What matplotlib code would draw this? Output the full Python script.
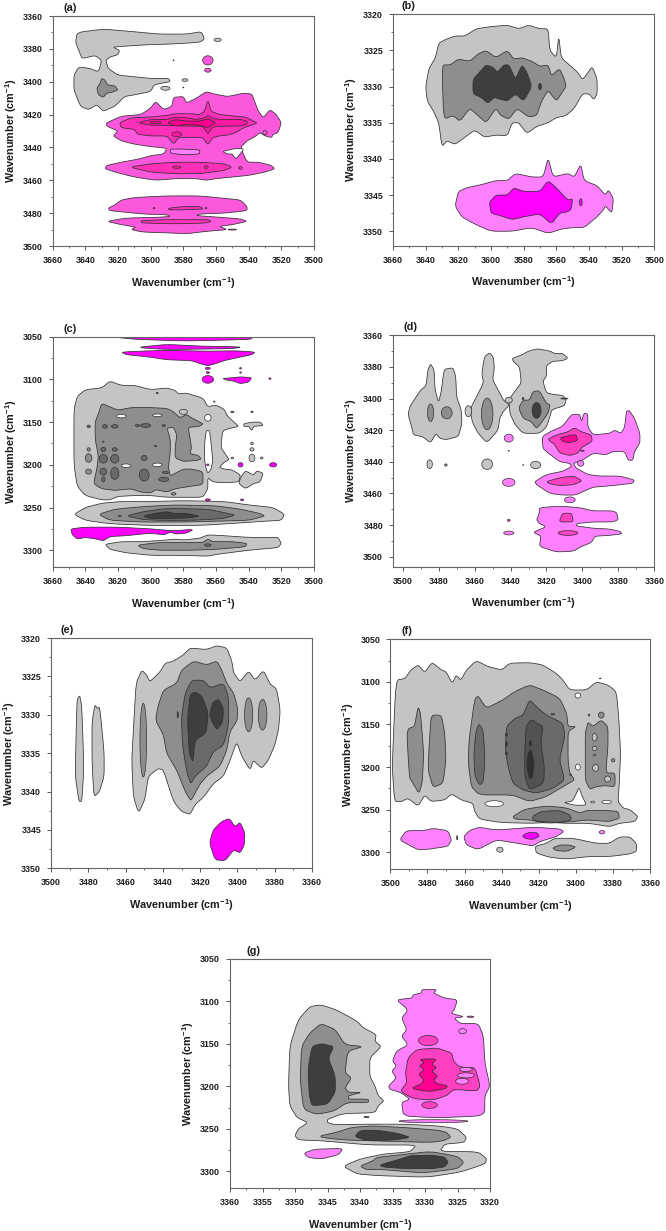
"""
Seven 2D correlation contour maps (a)-(g), redrawn with matplotlib.
Contour outlines were read off the picture, in wavenumber units.
"""

import matplotlib
matplotlib.use("Agg")
import matplotlib.pyplot as plt
from matplotlib.patches import Ellipse
import numpy as np

plt.rcParams["font.family"] = ["Liberation Sans", "DejaVu Sans"]
plt.rcParams["font.weight"] = "bold"
plt.rcParams["mathtext.fontset"] = "custom"
plt.rcParams["mathtext.bf"] = "Liberation Sans:bold"
plt.rcParams["mathtext.rm"] = "Liberation Sans:bold"

# contour fill levels
G1 = "#c4c4c4"
G2 = "#8e8e8e"
G3 = "#6a6a6a"
G4 = "#3e3e3e"
P1 = "#ff80ff"
P2 = "#ff40c0"
P3 = "#ff0090"
M = "#ff00ff"
A1 = "#fb58dc"
A2 = "#ff30b8"
A3 = "#ff18a4"
W = "white"

# panel (a)
a_regions = [
    (G1, [(3645,3370),(3629,3368),(3611,3369.5),(3595,3371),(3578,3371),(3569,3369.5),(3567,3374),(3570,3376),(3586,3377),(3602,3377.5),(3618,3378.5),(3623,3379),(3619,3381),(3620,3383.5),(3625,3385),(3627.5,3387),(3626,3392),(3620,3396),(3610,3397),(3600,3398),(3589,3398),(3588,3400),(3594,3401),(3598,3402),(3600,3406),(3610,3408),(3616,3409),(3622,3415),(3629,3418),(3633,3414),(3638,3417),(3643,3415),(3647,3405),(3647,3396),(3644,3391),(3637,3392),(3632,3394),(3630,3387),(3634,3384),(3642,3386),(3644,3381),(3646,3376)]),
    (G2, [(3630,3398),(3628,3399),(3626.5,3402),(3622,3402.5),(3620,3405),(3624,3406.5),(3627,3407),(3629,3409.5),(3632,3408),(3633,3404),(3631,3401)]),
    (A1, [(3627,3425),(3618,3421),(3606,3420),(3600,3416),(3597,3412),(3592,3417),(3587,3415),(3586,3409.5),(3580,3409),(3578,3413),(3572,3410),(3566,3406),(3561,3407.5),(3553,3409),(3548,3408),(3543,3407),(3538,3407.5),(3536,3413),(3534,3418),(3531,3422),(3527,3417),(3523,3420),(3520,3425),(3522,3431),(3525,3432),(3526,3434),(3530,3433),(3533,3431),(3537,3434),(3541,3436),(3545,3440),(3541,3449),(3534,3449),(3526,3451),(3524,3453),(3530,3455),(3540,3457),(3550,3458),(3560,3459),(3566,3460),(3572,3459),(3585,3459),(3597,3460),(3610,3458),(3620,3455.5),(3628,3453),(3627,3451),(3618,3449),(3607,3447),(3600,3445),(3592,3444),(3590,3440.5),(3600,3439.5),(3610,3438),(3618,3436),(3623,3433),(3620,3430),(3627,3427)]),
    (W, [(3556,3442.5),(3550,3441),(3546,3440.5),(3543,3441),(3546,3445),(3548,3447),(3550,3444),(3553,3444)]),
    (P1, [(3588,3441),(3580,3441),(3570,3441.5),(3570,3444),(3580,3444.5),(3588,3443.5)]),
    (A2, [(3619,3425),(3612,3422),(3600,3421.5),(3590,3420.5),(3585,3419.5),(3575,3419.5),(3570,3420),(3567,3418),(3565,3411),(3563,3418),(3558,3420),(3548,3421),(3542,3421.5),(3537,3424),(3535,3425),(3537,3426),(3543,3428),(3548,3431),(3553,3432.5),(3558,3433),(3562,3434),(3565,3438.5),(3568,3434),(3575,3434),(3583,3434),(3586,3438),(3590,3433),(3600,3433),(3608,3432),(3610,3429),(3618,3428)]),
    (A3, [(3608,3425),(3600,3423),(3590,3423),(3585,3421.5),(3578,3422),(3572,3423),(3567,3422),(3565,3420.5),(3562,3422.5),(3555,3423),(3545,3423),(3541,3424),(3541,3426),(3546,3427),(3555,3427),(3562,3427.5),(3565,3432),(3568,3427),(3580,3427),(3590,3426.5),(3600,3426.5)]),
    (P3, [(3590,3425),(3585,3423),(3578,3424),(3570,3424),(3565,3422.5),(3560,3425),(3565,3428),(3570,3426.5),(3578,3426),(3585,3427)]),
    (A2, [(3613,3452),(3600,3450),(3585,3449),(3570,3449),(3555,3450),(3550,3452),(3555,3454),(3570,3456),(3585,3456),(3600,3455)]),
    (A1, [(3618,3472),(3610,3470.5),(3590,3469.5),(3570,3469.5),(3555,3471),(3545,3472),(3541,3476),(3541,3478.5),(3555,3480),(3570,3480.5),(3572,3481.5),(3558,3482.5),(3545,3483.5),(3541,3485),(3550,3487),(3558,3488),(3553,3490),(3565,3491),(3578,3492.5),(3590,3492),(3605,3491.5),(3612,3490),(3609,3488.5),(3618,3487),(3627,3485),(3615,3483),(3595,3482.5),(3588,3482),(3590,3481),(3605,3480.5),(3625,3478.5),(3626,3477),(3622,3475)]),
    (A2, [(3589,3477),(3580,3476),(3570,3476),(3567.5,3477.5),(3580,3478),(3589,3478)]),
    (A2, [(3605,3484.5),(3590,3484),(3575,3484),(3565,3484),(3563,3485),(3566,3486),(3585,3486.5),(3605,3486),(3606,3485)]),
]
a_spots = [
    (3559,3374.5,2.2,1.0,G1),(3579,3399,1.8,0.8,G1),(3591,3404,2.8,1.2,G1),(3586,3387,0.3,0.3,G3),(3580,3403.5,0.3,0.3,G3),
    (3565,3387,3.2,2.8,A1),(3565,3393,2.0,1.2,A1),(3530,3431,1.3,1.3,A1),
    (3597,3424.8,3.5,0.8,P3),(3584,3432,3,1.5,A3),
    (3584,3452,2.5,0.7,A3),(3566,3452,1.2,0.8,A3),(3545,3452.5,1.1,0.8,A2),
    (3598,3477,0.5,0.4,G4),(3566,3477,0.4,0.4,G4),(3550,3490,2.5,0.3,A1),
]

# panel (b)
b_regions = [
    (G1, [(3640,3330),(3638,3327.5),(3634,3326),(3632,3324),(3628,3323.5),(3622,3323),(3616,3323),(3609,3322),(3600,3321.7),(3590,3321.5),(3583,3322),(3577,3321.5),(3570,3322),(3565,3322),(3564,3325),(3560,3326),(3558.5,3323),(3557,3326),(3552,3327),(3547,3328),(3544,3329),(3542,3328.5),(3538,3327.2),(3535,3329),(3535,3331),(3537,3331.8),(3540,3331),(3544,3331),(3549,3333),(3554,3334),(3560,3334.3),(3565,3335),(3572,3335.5),(3578,3336.5),(3583,3335),(3587,3335),(3590,3336.8),(3597,3336.7),(3604,3337),(3610,3336),(3616,3337),(3622,3338),(3627,3337.5),(3630,3338.3),(3632,3335),(3635,3333.5),(3639,3332)]),
    (G2, [(3630,3327),(3625,3327),(3620,3326.2),(3613,3326.5),(3608,3325.5),(3603,3325),(3597,3326),(3590,3325),(3586,3326.2),(3581,3326),(3575,3326.5),(3570,3327.2),(3565,3327),(3563,3328.5),(3558,3327.5),(3555,3329),(3554,3330),(3557,3331),(3560,3332),(3565,3330.5),(3569,3332),(3572,3334),(3577,3334.2),(3584,3333),(3589,3334.5),(3594,3334),(3597,3333),(3603,3335),(3608,3334),(3613,3333),(3619,3334.8),(3623,3334),(3629,3334.5)]),
    (G4, [(3611,3329),(3607,3328),(3603,3327),(3599,3327.3),(3596,3328),(3592,3327),(3589,3327),(3585,3329),(3581,3327),(3578,3328),(3575,3330),(3580,3332),(3585,3331),(3590,3332),(3595,3331.7),(3598,3331.5),(3602,3332.3),(3606,3331.5),(3611,3331)]),
    (P1, [(3622,3346.5),(3620,3344.5),(3615,3344),(3605,3343.5),(3597,3343),(3590,3343),(3585,3342),(3575,3342.5),(3568,3342.5),(3565,3339.8),(3562,3342.5),(3553,3342),(3549,3342.5),(3545,3340.7),(3543,3343),(3535,3343.7),(3530,3345),(3528,3344.3),(3525,3345.5),(3526,3347.5),(3530,3346.5),(3531,3347),(3535,3348),(3543,3349.5),(3550,3349.5),(3557,3349.7),(3565,3350.3),(3575,3349.5),(3587,3350),(3600,3350),(3610,3349),(3618,3348)]),
    (M, [(3601,3346),(3597,3345),(3590,3345),(3586,3344),(3580,3344.5),(3570,3344.5),(3565,3343),(3560,3344),(3553,3345.7),(3550,3345.5),(3551,3347),(3553,3347.3),(3558,3347.5),(3563,3349),(3570,3347.6),(3580,3348),(3587,3348.4),(3595,3347.8),(3600,3347.5)]),
]
b_spots = [(3570,3330,0.8,0.45,G4),(3545,3346,0.8,0.5,M)]

# panel (c)
c_regions = [
    (M, [(3625,3049),(3625,3050),(3610,3053),(3580,3055),(3555,3054),(3538,3053),(3538,3049)]),
    (M, [(3606,3062),(3590,3059),(3570,3061),(3544,3062),(3550,3064),(3590,3065),(3606,3063)]),
    (M, [(3618,3068),(3600,3066.5),(3590,3066),(3565,3067),(3548,3066.5),(3536,3068),(3538,3071),(3548,3075),(3555,3078),(3561,3082),(3565,3084),(3569,3082),(3575,3078),(3590,3077),(3600,3074),(3615,3071)]),
    (M, [(3556,3099),(3550,3098),(3545,3097),(3538,3098),(3540,3103),(3545,3105),(3549,3102),(3553,3101)]),
    (G1, [(3647,3135),(3645,3120),(3640,3112),(3630,3110),(3625,3102),(3618,3107),(3610,3107),(3600,3112),(3590,3110),(3585,3113),(3583,3117),(3578,3116),(3575,3118),(3568,3122),(3565,3132),(3560,3130),(3555,3135),(3553,3143),(3549,3150),(3546,3155),(3551,3157),(3556,3160),(3557,3180),(3554,3188),(3552,3194),(3555,3197),(3558,3203),(3555,3205),(3550,3206),(3545,3212),(3546,3220),(3555,3221),(3562,3220),(3565,3215),(3565,3228),(3568,3238),(3580,3238),(3590,3238),(3600,3236),(3610,3236),(3620,3237),(3625,3241),(3630,3241),(3640,3236),(3645,3225),(3647,3200)]),
    (W, [(3564,3160),(3566,3160),(3567,3175),(3567,3195),(3566,3205),(3565,3210),(3563,3205),(3562,3195),(3563,3175)]),
    (G2, [(3630,3128),(3624,3133),(3620,3136),(3612,3133),(3600,3133),(3590,3134),(3586,3138),(3582,3145),(3578,3141),(3575,3145),(3570,3150),(3568,3152),(3570,3155),(3577,3156),(3576,3168),(3575,3180),(3576,3187),(3571,3189),(3569,3193),(3572,3195),(3580,3196),(3585,3192),(3585,3180),(3584,3165),(3586,3156),(3590,3157),(3588,3170),(3588,3185),(3589,3200),(3589,3205),(3588,3213),(3585,3210),(3580,3205),(3575,3205),(3568,3208),(3568,3223),(3575,3225),(3585,3228),(3590,3232),(3597,3229),(3600,3233),(3606,3232),(3612,3228),(3622,3230),(3630,3228),(3635,3222),(3633,3205),(3632,3190),(3634,3170),(3634,3150),(3632,3140)]),
    (G1, [(3543,3152),(3538,3150),(3533,3150),(3531,3154),(3537,3155),(3538,3160),(3540,3155),(3543,3155)]),
    (G1, [(3542,3207),(3537,3212),(3535,3207),(3531,3210),(3533,3220),(3537,3222),(3542,3228),(3546,3222),(3545,3215)]),
    (G1, [(3647,3258),(3640,3250),(3630,3245),(3618,3243),(3600,3243),(3580,3242),(3555,3243),(3540,3247),(3525,3250),(3518,3258),(3520,3265),(3530,3266),(3545,3268),(3570,3271),(3600,3271),(3625,3269),(3640,3265)]),
    (G2, [(3632,3258),(3622,3252),(3605,3249),(3585,3247),(3560,3248),(3545,3252),(3533,3257),(3530,3260),(3540,3265),(3560,3266),(3580,3267),(3605,3267),(3625,3265)]),
    (G3, [(3615,3260),(3605,3255),(3590,3251),(3565,3252),(3555,3256),(3548,3259),(3556,3263),(3575,3265),(3595,3265),(3605,3264)]),
    (G4, [(3605,3260),(3595,3256),(3590,3255),(3585,3257),(3578,3257),(3570,3260),(3575,3262),(3590,3263),(3600,3263)]),
    (M, [(3649,3275),(3640,3273),(3620,3273),(3600,3275),(3588,3277),(3583,3277),(3578,3276),(3574,3276),(3578,3280),(3584,3281),(3588,3279),(3592,3282),(3600,3280),(3615,3283),(3625,3284),(3629,3289),(3633,3287),(3640,3285),(3645,3287),(3648,3282)]),
    (G1, [(3628,3293),(3618,3290),(3605,3290),(3590,3288),(3585,3287),(3580,3288),(3570,3286),(3565,3282),(3555,3283),(3540,3285),(3525,3285),(3522,3285),(3520,3292),(3522,3297),(3540,3300),(3560,3305),(3565,3307),(3580,3306),(3600,3306),(3615,3303),(3625,3299)]),
    (G2, [(3608,3294),(3595,3291),(3575,3291),(3568,3291),(3565,3287),(3562,3290),(3550,3290),(3541,3292),(3542,3296),(3560,3299),(3575,3300),(3595,3300),(3605,3298)]),
]
c_spots = [
    (3565,3087,1.5,1.2,M),(3565,3092,1,1,M),(3545,3087,0.6,0.8,M),(3545,3092,0.5,0.8,M),(3565,3100,3.5,4.5,M),(3527,3099,0.7,0.8,M),
    (3565,3145,2,4,W),(3618,3143,3,2,W),(3596,3142,3,1.5,W),(3615,3201,3,2,W),(3596,3200,3,2,W),
    (3638,3155,1,1.5,G3),(3622,3155,2,2,G3),(3628,3155,1.5,2,G3),(3608,3154,1.5,1,G3),(3603,3154,3,2.2,G3),(3592,3154,1,1,G3),
    (3638,3182,1,2,G2),(3629,3182,1.5,2.5,G3),(3622,3182,1.5,2,G3),(3629,3193,2.5,5,G3),(3622,3193,2.5,5,G3),(3638,3192,2,5,G2),(3604,3192,1.8,3,G3),
    (3638,3208,1.8,3,G2),(3629,3208,2,4,G3),(3622,3210,2.5,7,G3),(3629,3217,1,3,G3),(3604,3212,3,7,G3),(3592,3217,3,2.5,G3),(3591,3209,1.8,1.2,G3),
    (3597,3178,0.6,0.8,G3),(3629,3173,0.4,0.7,G3),(3580,3138,2.5,3,G1),(3596,3116,0.6,0.8,G3),(3586,3234,1.5,1.5,G2),
    (3550,3138,1,0.8,G3),(3538,3138,0.7,0.8,G3),(3561,3126,0.4,0.8,G2),
    (3538,3175,0.8,1.5,G1),(3538,3182,1.2,2,G1),(3538,3192,1.8,4.5,G1),(3532,3192,0.8,1.2,G1),(3550,3192,0.8,1,G1),
    (3545,3200,1.5,2.5,M),(3525,3200,2.2,2.5,M),(3565,3200,0.7,1,M),(3565,3241,1.5,1.2,M),(3544,3241,1,1,M),
    (3619,3260,1,0.6,G3),(3565,3294,2,1.5,G3),
]

# panel (d)
d_regions = [
    (G1, [(3497,3410),(3496,3405),(3490,3394.5),(3487,3392),(3486,3382),(3484.5,3378),(3482.5,3382),(3482,3394.5),(3480,3402.5),(3478.5,3395),(3477,3381.5),(3472,3380.5),(3470.5,3386),(3470,3399),(3467.5,3407),(3467,3415.5),(3469,3424),(3476,3426),(3479.5,3425),(3481.5,3422),(3484.5,3428),(3489,3424),(3494,3423),(3495,3418)]),
    (G1, [(3462,3405.5),(3459,3399),(3455,3390),(3456,3384),(3454.5,3373.5),(3451.5,3371),(3449.5,3374),(3449,3381),(3450,3388),(3446,3396.5),(3444,3401),(3440.5,3404),(3444,3408),(3446,3412.5),(3447,3420),(3451.5,3426),(3453.5,3427.5),(3458,3422),(3461,3415.5),(3462,3411)]),
    (G1, [(3439,3374.5),(3434,3372.5),(3430,3370),(3425,3368.5),(3418,3370),(3415.5,3371.5),(3411,3371.5),(3408,3374.5),(3411,3376),(3416.5,3376.5),(3420,3379),(3420,3386),(3422,3389),(3420,3396.5),(3415.5,3397.5),(3411,3398),(3409,3400.5),(3410,3404.5),(3417,3407),(3418,3411),(3420,3418),(3424,3422),(3433,3422),(3437.5,3416.5),(3440.5,3409),(3440.5,3400),(3437,3394.5),(3434,3390),(3435,3380),(3438.5,3376.5)]),
    (G2, [(3427.5,3395.5),(3424,3395),(3420,3403),(3418,3404),(3419,3409),(3423,3415.5),(3425.5,3419),(3428.5,3414.5),(3433,3412.5),(3435.5,3406),(3433,3401),(3429.5,3401)]),
    (P1, [(3422.3,3424),(3418,3421),(3411,3417.5),(3406,3410),(3401.5,3410),(3400.5,3414.5),(3399,3409),(3397,3410),(3397,3418),(3394,3423),(3385,3422),(3382,3420),(3378.5,3422),(3376.5,3418),(3375.5,3408),(3374,3407.5),(3371,3412.5),(3368,3422),(3368,3428),(3371,3433.5),(3372,3439),(3374.5,3439),(3376.5,3433.5),(3383,3433.5),(3387,3435.5),(3394,3434.5),(3400,3439),(3405,3441),(3403.5,3444),(3397,3448),(3390.5,3449),(3379,3449),(3371,3451.5),(3372,3453.5),(3379,3454.5),(3388,3455.5),(3394,3456),(3400,3459),(3404,3461),(3411,3461),(3418,3460),(3425.5,3454.5),(3426.5,3452.5),(3420,3448),(3411,3446),(3406,3443),(3407,3441),(3412.5,3440),(3419,3434.5),(3422,3431.5)]),
    (P2, [(3419,3425.5),(3414.5,3423),(3408,3421),(3404.5,3418.5),(3400.5,3421),(3395,3423),(3394.5,3427),(3400.5,3431),(3402.5,3434.5),(3407,3436),(3412.5,3434.5),(3415.5,3429),(3418,3427)]),
    (P3, [(3412.5,3425),(3406,3423),(3403.5,3423),(3402.5,3426.5),(3408,3428),(3411,3427)]),
    (P2, [(3420,3452.5),(3412.5,3450),(3405,3449),(3400,3452),(3405,3454.5),(3412.5,3455),(3418,3454)]),
    (P1, [(3424,3469),(3412.5,3468),(3401.5,3469),(3394,3471),(3387,3471),(3384,3471),(3381,3472),(3380,3476.5),(3383,3478),(3394,3478),(3403,3479),(3403.5,3480.5),(3394,3482),(3385,3482.5),(3379,3484),(3378,3485.5),(3385,3486.5),(3393,3487),(3395,3491),(3400.5,3493.5),(3405,3496.5),(3414.5,3497),(3424,3493.5),(3423,3487),(3427.5,3484.5),(3420,3481),(3424,3479),(3425.5,3476.5),(3424,3472.5)]),
    (P2, [(3413,3478),(3411,3472.5),(3406,3472.5),(3405,3478)]),
]
d_spots = [
    (3484.5,3409,1.7,5.5,G2),(3475.5,3409,3,3.8,G2),(3463.5,3408,1.8,3.5,G1),(3453,3409.7,3.2,10,G2),(3425.5,3407.5,2.5,5,G4),
    (3433,3400,0.4,0.7,G4),(3410,3400,2,0.3,G3),(3441,3401,2,1.8,G1),
    (3485,3441.5,1.5,2.8,G1),(3476,3442,0.7,0.7,G2),(3453,3441.5,3,3.3,G1),(3426,3442,2.8,2.3,G1),(3433,3442,0.2,0.3,G2),
    (3441,3425,2.5,2.5,P1),(3441,3453,3.5,2.5,P1),(3441,3477,0.8,0.6,P2),(3441,3485,2.8,1.2,P1),(3441,3433,0.3,0.3,P2),
    (3401,3441,1.8,1.8,P1),(3400,3433,1,0.3,P2),(3407,3464,3,1.8,P1),(3408,3485,5.5,1.5,P2),
]

# panel (e)
e_regions = [
    (G1, [(3486.5,3332),(3486,3328),(3484.5,3327.5),(3483.5,3329),(3482.6,3335),(3482.6,3338),(3483.5,3341.3),(3485,3341.3),(3487,3338)]),
    (G1, [(3476.5,3328.7),(3475,3329.2),(3474,3329),(3473,3331),(3471.5,3335),(3471.5,3338),(3474,3340),(3477,3340.7),(3478,3336),(3478,3331)]),
    (G1, [(3456.7,3335.9),(3455.8,3332),(3454.4,3325.9),(3451.3,3324.2),(3448.7,3324.8),(3447,3325.7),(3441.5,3324.4),(3438.8,3323.3),(3434.3,3323),(3429,3322.2),(3425.4,3321.3),(3416.5,3321.5),(3411,3321),(3405.7,3321.3),(3403,3323),(3402,3324.6),(3398.6,3325.7),(3394,3324.3),(3390.5,3325.5),(3386,3324.2),(3382.5,3326),(3379,3326.6),(3377,3329.4),(3378,3332),(3380,3334),(3383.4,3335.9),(3387,3337),(3391.5,3335.9),(3393.2,3337.2),(3397.7,3335.4),(3400.4,3333.5),(3404,3336),(3407.5,3338),(3413,3339),(3418,3340.7),(3422.7,3341.7),(3425.4,3343),(3430,3342.6),(3434.3,3341.3),(3439.7,3337.2),(3442.4,3337),(3447.8,3338),(3449.6,3341),(3453,3342.8),(3455.8,3340.7)]),
    (G2, [(3444,3330.7),(3442.4,3328.7),(3439.7,3326.8),(3432.6,3325.9),(3430,3324.2),(3423.6,3323),(3416.5,3323.5),(3411,3323),(3408.4,3324.2),(3405.7,3325.9),(3402,3327.2),(3400,3329),(3400,3330.7),(3404,3332.2),(3405.7,3334.6),(3409.3,3336.7),(3416.5,3338),(3420,3339),(3423.6,3340.6),(3425,3341.2),(3428,3340),(3432.6,3337.2),(3438,3335),(3439.7,3332.6)]),
    (G3, [(3430,3330.2),(3428,3327.2),(3424.5,3325.5),(3418.3,3325.5),(3414.7,3326.5),(3407.5,3325.9),(3404.8,3327.6),(3404.8,3331.5),(3407.5,3334),(3413,3334.8),(3416.5,3336.7),(3422.7,3338),(3425,3339),(3427,3337.6),(3429.5,3334)]),
    (G4, [(3426.8,3330.7),(3425.4,3327.4),(3422.7,3327),(3419,3327.6),(3415.6,3329.8),(3416.8,3332.4),(3422.7,3333.3),(3423.6,3335.4),(3424,3336.1),(3425.8,3335)]),
    (G4, [(3415,3330),(3413,3328.3),(3410,3328),(3407.5,3329.2),(3407.9,3330.9),(3411,3332),(3413.6,3330.9)]),
    (M, [(3415,3346.7),(3413,3345),(3408.4,3343.9),(3404.3,3343.5),(3401.3,3344.6),(3398.6,3344),(3396,3345.4),(3396.3,3347),(3398.6,3348),(3402,3347.6),(3406.5,3349),(3412,3348.9)]),
]
e_spots = [(3450.5,3333.3,1.8,4.8,G2),(3394,3330,2.2,2.2,G2),(3386.5,3330,2.3,2,G2),(3432,3330,0.3,0.4,G4)]

# panel (f)
f_regions = [
    (G1, [(3499,3199.5),(3497,3098),(3492,3096),(3489,3086),(3485,3080),(3481.5,3089),(3477.5,3077),(3472.5,3086),(3470,3088),(3466.6,3101.6),(3464.5,3092),(3462,3098),(3459,3086),(3453.7,3075),(3447.4,3082),(3440,3086),(3435.7,3078),(3425,3077.4),(3418,3080),(3410.6,3090),(3407,3098),(3403.4,3109.5),(3394.4,3109.5),(3389,3100),(3382.8,3103.6),(3378.3,3111.4),(3377,3141),(3376,3184),(3376.8,3223),(3377.4,3240.5),(3374.7,3248),(3371,3250),(3366.6,3258),(3368.4,3264),(3376.5,3266),(3382,3270),(3393,3266),(3405,3266),(3414,3265),(3425,3266),(3441,3265),(3452,3261),(3454.6,3252),(3455.5,3242.5),(3461.8,3238.6),(3467,3231.5),(3470.7,3238.6),(3478,3240.5),(3481.5,3232.7),(3485,3246),(3490.5,3236.6),(3494,3240.5),(3497.7,3240.5)]),
    (W, [(3406.6,3241.7),(3402,3240),(3400,3232),(3398.4,3223.7),(3396.5,3235),(3394.4,3244.5),(3400,3245)]),
    (G2, [(3491,3160),(3490,3154.5),(3487,3152.5),(3485,3129),(3483.7,3137),(3482,3184),(3482.8,3219),(3484.6,3231),(3487.8,3219),(3489.6,3213),(3490.5,3184)]),
    (G2, [(3479,3172),(3478,3139),(3472.5,3139),(3470.7,3160),(3470,3191.6),(3471.6,3219),(3477,3224),(3479.7,3203)]),
    (G2, [(3457.6,3168),(3454.6,3121),(3452.8,3116),(3448.3,3131),(3441,3123),(3439.3,3121),(3433,3111.4),(3425,3103.6),(3417.8,3109.5),(3408.8,3119),(3405,3137),(3404.3,3152.5),(3400,3152.5),(3404.3,3158),(3404.3,3191.6),(3403.4,3207),(3400.7,3215),(3407,3223),(3416,3234.7),(3425,3240.5),(3434,3232.7),(3452,3232.7),(3456.4,3223),(3458,3195.5)]),
    (G3, [(3454,3160),(3452.3,3149),(3450,3157),(3449,3190),(3450,3218),(3452,3221),(3454.5,3210),(3455,3185)]),
    (G3, [(3437.5,3152.5),(3433,3143),(3428.5,3139),(3425,3121),(3421.4,3129),(3416,3139),(3407,3148.6),(3406,3164),(3409,3191.6),(3406,3215),(3412.4,3225),(3421.4,3230.7),(3428.5,3227),(3434,3219),(3436.6,3199.5),(3438,3180)]),
    ("#525252", [(3427.6,3184),(3427,3152.5),(3424,3143.9),(3420.5,3149.4),(3417.8,3152.5),(3419,3172),(3417,3199.5),(3417.4,3219),(3425,3227),(3427.6,3211)]),
    ("#2f2f2f", [(3426,3185),(3424.5,3179),(3423.5,3185),(3422.5,3195),(3423.5,3212),(3425,3214),(3426.5,3200)]),
    (G2, [(3395,3160),(3393.5,3147),(3391,3152.5),(3386.4,3144.7),(3382.8,3152.5),(3382.8,3176),(3384,3207),(3379,3207),(3379,3223),(3384.6,3221.8),(3389,3223),(3392.6,3226),(3395,3215),(3395,3184)]),
    (G2, [(3434,3258),(3427.6,3249.5),(3416,3245.6),(3405,3248),(3398,3254),(3394.4,3251),(3383.6,3251),(3377.4,3252),(3376.5,3260),(3382,3264),(3394.4,3262),(3401.6,3264),(3416,3266),(3425,3262),(3433,3261)]),
    (G3, [(3423.5,3258),(3418.7,3252),(3408.8,3251),(3403.4,3256),(3402.5,3262),(3408.8,3265),(3419.6,3264),(3423,3262)]),
    (P1, [(3495,3285.5),(3491.4,3274.6),(3482.4,3274.6),(3477,3272),(3469,3274.6),(3467,3285.5),(3469,3293),(3475,3295),(3479.7,3296.5),(3485,3297),(3488.7,3293)]),
    (P1, [(3460.5,3281.6),(3457,3274),(3452,3270.6),(3443,3274),(3423,3270.6),(3408.8,3272.6),(3406.5,3275.7),(3410.6,3281.6),(3419.6,3287.5),(3423,3292.6),(3434,3288.6),(3443,3285.5),(3452.8,3297),(3459,3291.4)]),
    (M, [(3429,3281),(3426,3277),(3421,3277),(3419.7,3281),(3423,3285),(3427,3284)]),
    (G1, [(3422,3293),(3416,3289.5),(3411.5,3283.6),(3401.6,3283.6),(3389,3289.5),(3382,3289.5),(3376.5,3282),(3371,3282),(3367.5,3289.5),(3367.5,3299),(3371,3302),(3382,3305),(3393,3305),(3405,3308),(3414,3306),(3421.4,3301)]),
    (G2, [(3412.7,3295),(3408.8,3291.5),(3403.4,3291.5),(3400,3294),(3405,3299),(3410.6,3298)]),
]
f_spots = [
    (3444,3243,5,3.5,W),(3383.5,3241,2.5,2,W),(3391,3241,1,1,W),(3399,3116,1.5,3,W),(3399,3200,1.3,3.5,W),
    (3437.5,3162,0.5,1.5,G4),(3437.5,3173,0.5,2.5,G4),(3437.5,3184,0.5,1.5,G4),
    (3424.5,3172,0.6,3,"#2f2f2f"),
    (3390,3165,1.3,4.5,G1),(3390,3178,1.3,2.5,G1),(3390,3186,0.8,1,G1),(3389.5,3201,1.6,4,G1),(3383,3214,1.6,3.5,G1),
    (3386.4,3139,1.5,3.5,G2),(3380,3192,0.9,2,G2),(3393,3139,0.4,1.2,G3),(3387,3096,0.4,0.4,G3),(3412.5,3138,1,0.8,G3),(3403,3209,0.5,0.5,G3),
    (3464,3283,0.3,2.5,G3),(3386,3276.5,1.5,2,P1),(3441,3297,1.7,3,G1),
]

# panel (g)
g_regions = [
    (G1, [(3351,3199.6),(3350.8,3152.7),(3349.5,3121.5),(3347.7,3106),(3346,3104),(3343.6,3110),(3340.5,3123),(3339.5,3131),(3337.5,3139),(3337.7,3147),(3336.7,3153),(3338.5,3166.4),(3338.5,3188),(3337.7,3199.6),(3337.2,3211),(3336.3,3217),(3337.2,3223),(3337.7,3231),(3342.6,3232),(3345,3238.7),(3345,3242.6),(3344,3245),(3338.5,3244.5),(3333.3,3244.5),(3328,3246.5),(3325,3250),(3323.6,3260),(3324,3266),(3327,3268),(3327.7,3276.6),(3321.8,3277),(3320.5,3285.5),(3320.8,3291.4),(3324.6,3301),(3329.7,3307),(3337.4,3305),(3340.5,3303),(3342.6,3294),(3340,3285.5),(3336.4,3279.7),(3332.3,3277),(3331.3,3269),(3338.5,3269),(3346,3264),(3349.5,3263),(3350,3258),(3349.5,3250),(3348,3242.6),(3349.7,3236.7),(3350.8,3223)]),
    (G2, [(3349.2,3192),(3349,3153),(3347.7,3137),(3346,3126),(3343.8,3133),(3342.3,3151),(3339.5,3153),(3341.9,3158.6),(3342.3,3184),(3341.3,3190),(3342.3,3201.6),(3341.8,3207),(3339.7,3207),(3341.8,3211),(3341.8,3215),(3338.7,3215),(3338.7,3219),(3342,3219),(3344,3229),(3346.7,3233),(3348.7,3227)]),
    (G4, [(3347.8,3211),(3348,3180),(3347.4,3153),(3346,3149.6),(3344,3153),(3344.9,3166.4),(3343.8,3188),(3343.8,3207),(3345,3221),(3347.4,3223)]),
    (G2, [(3346,3258),(3343.6,3254),(3341.3,3248.4),(3338,3246.5),(3333.3,3248.4),(3328,3251.6),(3326.7,3254),(3326,3260),(3327.2,3264),(3329.2,3266),(3338.5,3264),(3342.6,3263),(3346,3260)]),
    (G4, [(3340.8,3259),(3340,3252),(3337.4,3251.6),(3334.4,3255),(3332.2,3260),(3334.4,3263),(3339,3264)]),
    (P1, [(3348.6,3278.5),(3347,3274),(3342.6,3273),(3343.3,3280.5),(3346,3285.5),(3348,3283.6)]),
    (G2, [(3340,3294),(3338,3287.5),(3337.4,3283.6),(3333.8,3280.5),(3329.2,3276.6),(3325,3282.4),(3324,3289.5),(3325,3297),(3330.3,3302),(3336.4,3298),(3339,3298)]),
    (G4, [(3337,3292.6),(3333.8,3285.5),(3332.3,3281.6),(3329.2,3281),(3327,3283),(3326.4,3289.5),(3327,3295),(3329.2,3297),(3333.8,3296.5),(3336.4,3295)]),
    (P1, [(3334.4,3098),(3332,3096),(3331.8,3092),(3330.5,3090),(3330.5,3086),(3328.2,3086),(3328.7,3090),(3327,3096),(3325,3098),(3325.5,3110),(3326,3114),(3324,3118),(3325.5,3119.5),(3324.6,3126),(3321.8,3126),(3321,3141),(3320.8,3172),(3320,3199.6),(3320.8,3211),(3320.8,3231),(3321.8,3235),(3328,3237),(3333.3,3235),(3333.6,3219),(3332.3,3215),(3333.8,3207),(3335.4,3203.5),(3335.6,3199.6),(3334.4,3190),(3335.1,3182),(3334.4,3176),(3335,3170),(3334.4,3158.6),(3332.6,3151),(3333.6,3141),(3332.8,3133),(3333.6,3119.5),(3332.6,3110)]),
    (P2, [(3332.6,3166.4),(3331.3,3156.6),(3328.2,3154.7),(3325.9,3160.5),(3325.6,3170),(3324.9,3176),(3323.8,3178),(3322.3,3178),(3321.5,3199.6),(3322,3205.5),(3325.6,3203.5),(3326.7,3211),(3328.7,3216),(3331.8,3214.5),(3333.8,3205.5),(3332.8,3195.7),(3333,3184)]),
    (P3, [(3330.8,3168),(3328.2,3167.6),(3329,3174),(3328.2,3178),(3329,3182),(3328,3188),(3328.7,3192.6),(3328.2,3196.5),(3326.5,3199.6),(3326.9,3202.7),(3329.2,3206),(3331.3,3204),(3332,3201.6),(3330.5,3197),(3330.2,3191.8),(3331,3186),(3330.1,3180),(3330.9,3176),(3330.1,3172)]),
]
g_spots = [
    (3339,3236,0.4,0.7,G3),
    (3323.7,3180,1,2.5,P1),(3323.7,3187,1.3,3,P1),(3324.3,3194,1,3.5,P1),
    (3329.5,3146,1.5,6,P2),(3329.3,3222,1.2,4,P2),(3324.2,3135,0.6,3,P1),(3323,3118,0.5,0.8,P2),(3328.7,3241,5.3,1.8,P1),
]

# panel label, limits and ticks
x_3660 = [3660, 3640, 3620, 3600, 3580, 3560, 3540, 3520, 3500]
x_3500 = [3500, 3480, 3460, 3440, 3420, 3400, 3380, 3360]
x_3360 = [3360, 3355, 3350, 3345, 3340, 3335, 3330, 3325, 3320]
y_3360 = [3360, 3380, 3400, 3420, 3440, 3460, 3480, 3500]
y_3320 = [3320, 3325, 3330, 3335, 3340, 3345, 3350]
y_3050 = [3050, 3100, 3150, 3200, 3250, 3300]

# left, right, top, bottom of each frame in picture pixels
frames = {
    "a": (52.7, 314, 16, 246),
    "b": (393, 654.3, 14.3, 245.7),
    "c": (52.7, 314, 336.7, 567.3),
    "d": (393, 654.3, 335.3, 566.7),
    "e": (51, 312, 638, 868.3),
    "f": (390.3, 650.3, 639.3, 869.3),
    "g": (230, 490, 959, 1188.3),
}
FIG_W, FIG_H = 666, 1231


def smooth(points, rounds=2, cut=0.15):
    """Corner cutting with a small cut, so the spikes of the outlines survive"""
    pts = np.array(points, dtype=float)
    for _ in range(rounds):
        nxt = np.roll(pts, -1, axis=0)
        q = (1 - cut) * pts + cut * nxt
        r = cut * pts + (1 - cut) * nxt
        pts = np.empty((len(q) * 2, 2))
        pts[0::2] = q
        pts[1::2] = r
    return pts


def draw_panel(fig, name, regions, spots, xlim, ylim, xticks, yticks, label_x):
    left, right, top, bottom = frames[name]
    ax = fig.add_axes([left / FIG_W, 1 - bottom / FIG_H, (right - left) / FIG_W, (bottom - top) / FIG_H])

    for color, points in regions:
        pts = smooth(points)
        ax.fill(pts[:, 0], pts[:, 1], facecolor=color, edgecolor="#303030", linewidth=0.55, joinstyle="round")
    for cx, cy, rx, ry, color in spots:
        ax.add_patch(Ellipse((cx, cy), 2 * rx, 2 * ry, facecolor=color, edgecolor="#303030", linewidth=0.5))

    ax.set_xlim(xlim)
    ax.set_ylim(ylim)
    ax.set_xticks(xticks)
    ax.set_yticks(yticks)
    # one minor tick between two majors
    ax.set_xticks([(p + q) / 2 for p, q in zip(xticks[:-1], xticks[1:])], minor=True)
    ax.set_yticks([(p + q) / 2 for p, q in zip(yticks[:-1], yticks[1:])], minor=True)
    ax.tick_params(which="major", length=3.0, width=0.7, color="#555555", labelsize=6.4, pad=4.2, labelcolor="#1c1c1c")
    ax.tick_params(which="minor", length=1.7, width=0.6, color="#555555")
    for spine in ax.spines.values():
        spine.set_color("#666666")
        spine.set_linewidth(0.8)

    ax.set_xlabel(r"Wavenumber (cm$^{\mathbf{-1}}$)", fontsize=7.8, fontweight="bold", labelpad=7, color="#1c1c1c")
    ax.set_ylabel(r"Wavenumber (cm$^{\mathbf{-1}}$)", fontsize=7.8, fontweight="bold", labelpad=3, color="#1c1c1c")
    ax.text(label_x, 1.022, "(%s)" % name, transform=ax.transAxes, fontsize=7.8, fontweight="bold", color="#1c1c1c")
    return ax


fig = plt.figure(figsize=(FIG_W / 100, FIG_H / 100), dpi=100)

draw_panel(fig, "a", a_regions, a_spots, (3660, 3500), (3500, 3360), x_3660, y_3360, 0.04)
draw_panel(fig, "b", b_regions, b_spots, (3660, 3500), (3352, 3320), x_3660, y_3320, 0.034)
draw_panel(fig, "c", c_regions, c_spots, (3660, 3500), (3320, 3050), x_3660, y_3050, 0.04)
draw_panel(fig, "d", d_regions, d_spots, (3505.4, 3360), (3506.3, 3360), x_3500, y_3360, 0.04)
draw_panel(fig, "e", e_regions, e_spots, (3500, 3360), (3350, 3320), x_3500, y_3320, 0.038)
draw_panel(fig, "f", f_regions, f_spots, (3500, 3360), (3320, 3050), x_3500, y_3050, 0.045)
draw_panel(fig, "g", g_regions, g_spots, (3360, 3320), (3320, 3050), x_3360, y_3050, 0.065)

fig.savefig("out.png", dpi=100, facecolor="white")
